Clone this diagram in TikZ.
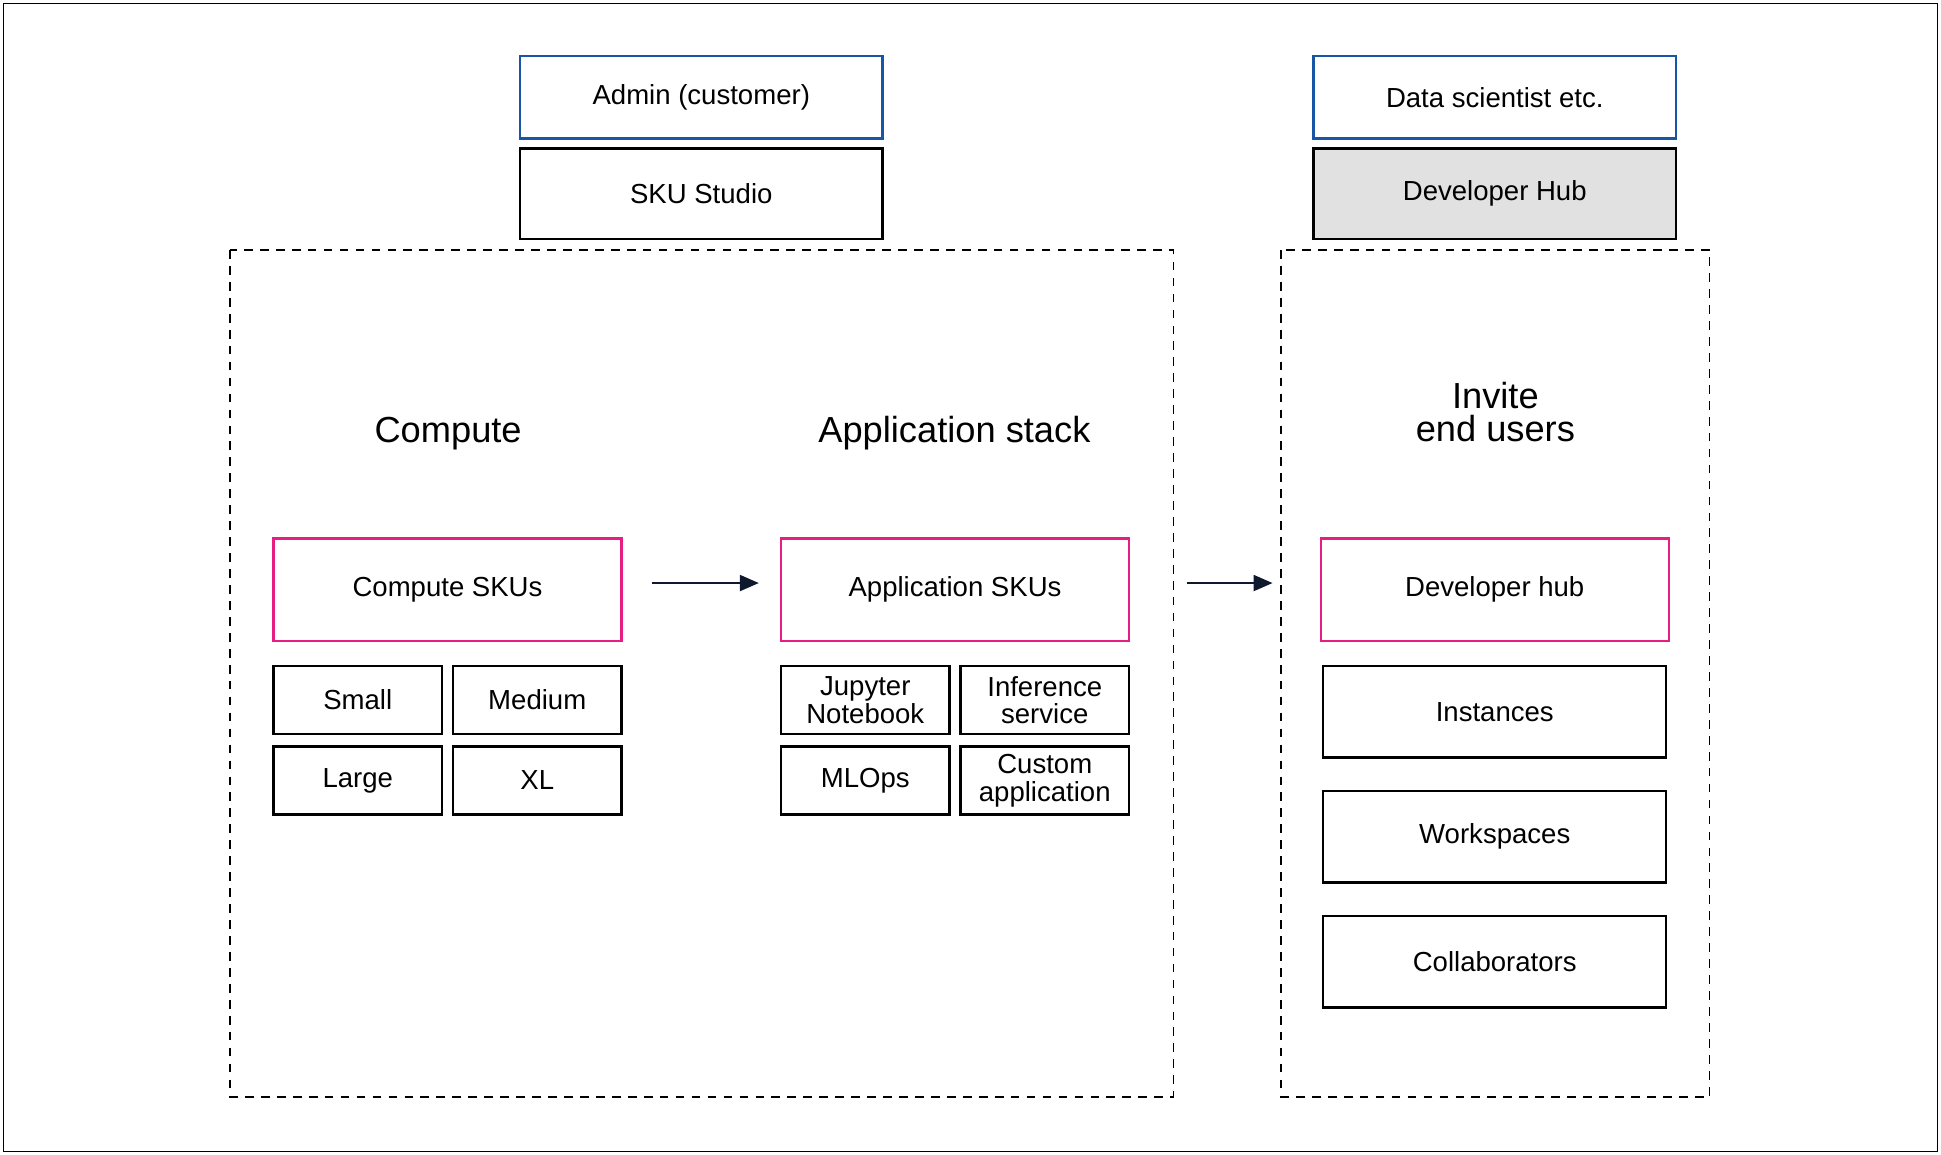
\documentclass[tikz,border=0pt]{standalone}
\usepackage{fontspec}
\setmainfont{Liberation Sans}
\usetikzlibrary{arrows.meta,positioning}
\definecolor{skupink}{RGB}{230,30,130}
\definecolor{userblue}{RGB}{25,85,165}
\definecolor{hubgray}{RGB}{225,225,225}
\definecolor{arrowink}{RGB}{15,25,45}
\tikzset{
  box/.style={draw,line width=1.6pt,align=center,font=\fontsize{19}{19}\selectfont,inner sep=0pt},
  sku/.style={box,draw=skupink,minimum width=8.43cm,minimum height=2.49cm},
  cell/.style={box,minimum width=4.08cm,minimum height=1.65cm},
  item/.style={box,minimum width=8.31cm,minimum height=2.22cm},
  top/.style={box,minimum width=8.79cm,minimum height=2.01cm},
  heading/.style={align=center,font=\fontsize{25}{23}\selectfont},
  region/.style={draw,line width=1.1pt,dash pattern=on 6pt off 5pt},
  flow/.style={line width=1.3pt,draw=arrowink,-{Triangle[length=13pt,width=11pt]}}
}
\begin{document}
\begin{tikzpicture}[x=0.03cm,y=-0.03cm]
\useasboundingbox (0,0) rectangle (1568,933);
\draw[line width=1pt] (3,3) rectangle (1565,930);
% dashed regions
\draw[region] (186,202) rectangle (948,886);
\draw[region] (1035,202) rectangle (1381,886);
% top boxes
\node[top,draw=userblue] (admin) at (566.5,78.5) {Admin (customer)};
\node[top,minimum height=2.19cm] (studio) at (566.5,156.5) {SKU Studio};
\node[top,draw=userblue] (scientist) at (1207.5,78.5) {Data scientist etc.};
\node[top,minimum height=2.19cm,fill=hubgray] (hub) at (1207.5,156.5) {Developer Hub};
% headings
\node[heading] (computelabel) at (362,350) {Compute};
\node[heading] (applabel) at (771,350) {Application stack};
\node[heading] (invitelabel) at (1208,333) {Invite\\end users};
% compute
\node[sku] (compute) at (361.5,476.5) {Compute SKUs};
\node[cell] (small) at (289,565.5) {Small};
\node[cell] (medium) at (434,565.5) {Medium};
\node[cell] (large) at (289,630.5) {Large};
\node[cell] (xl) at (434,630.5) {XL};
% application
\node[sku] (app) at (771.5,476.5) {Application SKUs};
\node[cell] (jupyter) at (699,565.5) {Jupyter\\Notebook};
\node[cell] (inference) at (844,565.5) {Inference\\service};
\node[cell] (mlops) at (699,630.5) {MLOps};
\node[cell] (custom) at (844,630.5) {Custom\\application};
% end users
\node[sku] (devhub) at (1207.5,476.5) {Developer hub};
\node[item] (instances) at (1207.5,575) {Instances};
\node[item] (workspaces) at (1207.5,676) {Workspaces};
\node[item] (collab) at (1207.5,777) {Collaborators};
% arrows
\coordinate (a1s) at (527,471);
\coordinate (a1e) at (613,471);
\coordinate (a2s) at (959,471);
\coordinate (a2e) at (1028,471);
\draw[flow] (a1s) -- (a1e);
\draw[flow] (a2s) -- (a2e);
\end{tikzpicture}
\end{document}
